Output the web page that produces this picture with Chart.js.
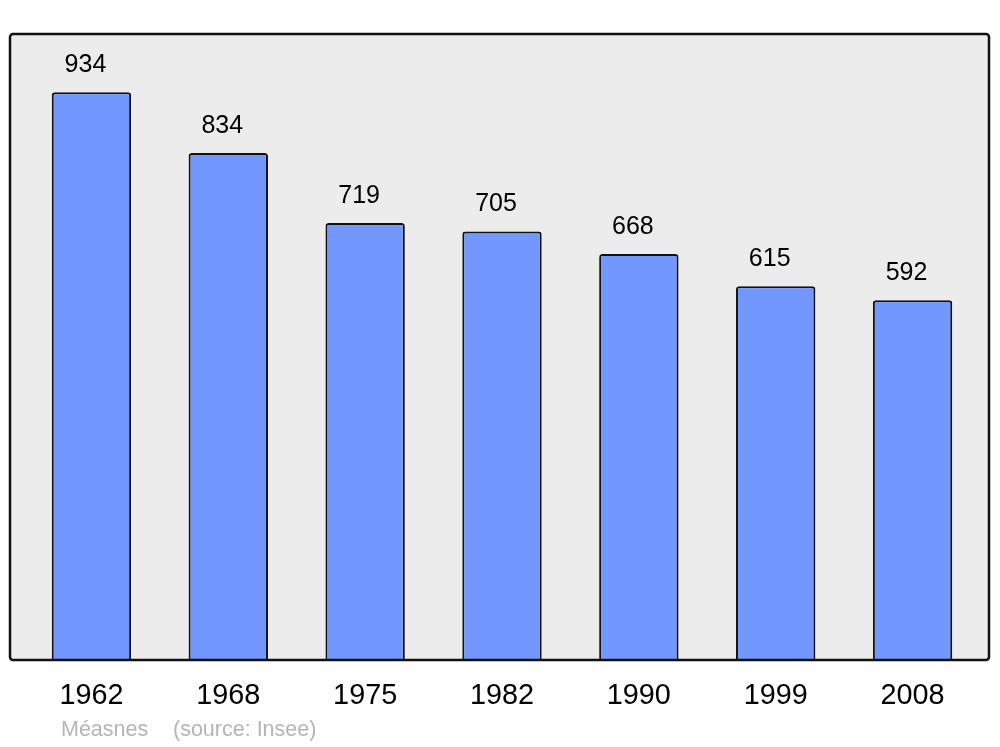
<!DOCTYPE html>
<html>
<head>
<meta charset="utf-8">
<script src="https://cdn.jsdelivr.net/npm/chart.js@4"></script>
<style>
html,body{margin:0;padding:0;background:#fff;}
#wrap{width:1000px;height:747px;position:relative;}
</style>
</head>
<body>
<div id="wrap"><canvas id="popChart" width="1000" height="747"></canvas></div>
<script>
// data
const years=["1962","1968","1975","1982","1990","1999","2008"];
const population=[934,834,719,705,668,615,592];
const commune="Méasnes";
const source="(source: Insee)";

const FONT="'Liberation Sans', Arial, sans-serif";

// grey panel + black frame around the plot
const framePlugin={
id:"frame",
beforeDraw(chart){
const a=chart.chartArea, c=chart.ctx;
c.save();
c.beginPath();
c.roundRect(a.left-13,a.top,a.right-a.left+21,a.bottom-a.top,3);
c.fillStyle="#ececec";
c.fill();
c.restore();
},
afterDatasetsDraw(chart){
const a=chart.chartArea, c=chart.ctx;
c.save();
c.beginPath();
c.roundRect(a.left-13,a.top,a.right-a.left+21,a.bottom-a.top,3);
c.lineWidth=2.5;
c.strokeStyle="#111";
c.stroke();
// value labels
c.fillStyle="#000";
c.font="25px "+FONT;
c.textAlign="center";
c.textBaseline="middle";
chart.getDatasetMeta(0).data.forEach((bar,i)=>{
c.fillText(population[i],bar.x-6,bar.y-27);
});
// footer
c.fillStyle="#b5b5b5";
c.font="21.5px "+FONT;
c.textAlign="left";
c.fillText(commune,61,730);
c.fillText(source,173,730);
c.restore();
}
};

new Chart(document.getElementById("popChart"),{
type:"bar",
data:{
labels:years,
datasets:[{
data:population,
backgroundColor:"#7298ff",
borderColor:"#111",
borderWidth:2,
borderRadius:{topLeft:3,topRight:3},
borderSkipped:"bottom",
barPercentage:0.58,
categoryPercentage:1
}]
},
options:{
responsive:false,
animation:false,
layout:{padding:{left:23,right:19,top:34,bottom:0}},
plugins:{legend:{display:false},tooltip:{enabled:false}},
scales:{
y:{display:false,min:0,max:1030},
x:{
grid:{display:false,drawTicks:false},
border:{display:false},
ticks:{color:"#000",font:{family:FONT,size:28.8},padding:19},
afterFit(scale){scale.height=87;}
}
}
},
plugins:[framePlugin]
});
</script>
</body>
</html>
